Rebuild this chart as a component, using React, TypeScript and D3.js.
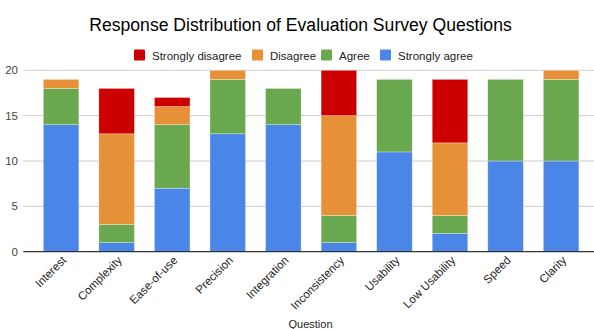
import React from "react";
import * as d3 from "d3";

const categories = ["Interest", "Complexity", "Ease-of-use", "Precision", "Integration", "Inconsistency", "Usability", "Low Usability", "Speed", "Clarity"];
const stronglyAgree = [14, 1, 7, 13, 14, 1, 11, 2, 10, 10];
const agree = [4, 2, 7, 6, 4, 3, 8, 2, 9, 9];
const disagree = [1, 10, 2, 1, 0, 11, 0, 8, 0, 1];
const stronglyDisagree = [0, 5, 1, 0, 0, 5, 0, 7, 0, 0];
const yTicks = [0, 5, 10, 15, 20];

const seriesNames = ["Strongly agree", "Agree", "Disagree", "Strongly disagree"];
const seriesColors = ["#4a86e8", "#6aa84f", "#e69138", "#cc0000"];
const legendOrder = [3, 2, 1, 0];

const W = 594, H = 329;
const FONT = "Arial, 'Liberation Sans', sans-serif";

export default function App() {
  const rows = categories.map((c, i) => ({
    cat: c,
    "Strongly agree": stronglyAgree[i],
    Agree: agree[i],
    Disagree: disagree[i],
    "Strongly disagree": stronglyDisagree[i],
  }));
  const stack = d3.stack<any>().keys(seriesNames)(rows);
  const x = d3.scaleBand().domain(categories).range([33.3, 588.9]).paddingInner(0.36).paddingOuter(0.18);
  const y = d3.scaleLinear().domain([0, 20]).range([251.7, 70.3]);

  const legendX = [134, 252, 321, 380];
  return (
    <div style={{ position: "absolute", left: 0, top: 0 }}>
      <svg width={W} height={H} style={{ display: "block", background: "#fff" }} fontFamily={FONT}>
        <text x={300.5} y={31} textAnchor="middle" fontSize={17.6} fill="#000">
          Response Distribution of Evaluation Survey Questions
        </text>
        {legendOrder.map((si, k) => (
          <g key={si}>
            <rect x={legendX[k]} y={49.5} width={11} height={11} fill={seriesColors[si]} rx={1} />
            <text x={legendX[k] + 18} y={59.5} fontSize={11.5} fill="#222">{seriesNames[si]}</text>
          </g>
        ))}
        {yTicks.map((t) => (
          <g key={t}>
            {t !== 0 && <line x1={23.3} x2={W} y1={y(t)} y2={y(t)} stroke="#cccccc" strokeWidth={1} />}
            <text x={18} y={y(t) + 4} textAnchor="end" fontSize={11.5} fill="#444">{t}</text>
          </g>
        ))}
        {stack.map((s, si) => (
          <g key={s.key} fill={seriesColors[si]}>
            {s.map((d, i) =>
              d[1] - d[0] > 0 ? (
                <rect
                  key={i}
                  x={x(categories[i])}
                  y={y(d[1])}
                  width={x.bandwidth()}
                  height={y(d[0]) - y(d[1])}
                  stroke="#ffffff"
                  strokeOpacity={0.5}
                  strokeWidth={0.6}
                />
              ) : null
            )}
          </g>
        ))}
        <line x1={23.3} x2={W} y1={y(0)} y2={y(0)} stroke="#333" strokeWidth={1.2} />
        {categories.map((c) => {
          const cx = (x(c) as number) + x.bandwidth() / 2;
          return (
            <text
              key={c}
              transform={`translate(${cx + 6},${261}) rotate(-45)`}
              textAnchor="end"
              fontSize={11.5}
              fill="#222"
            >
              {c}
            </text>
          );
        })}
        <text x={310.5} y={328} textAnchor="middle" fontSize={11} fill="#222">Question</text>
      </svg>
    </div>
  );
}
